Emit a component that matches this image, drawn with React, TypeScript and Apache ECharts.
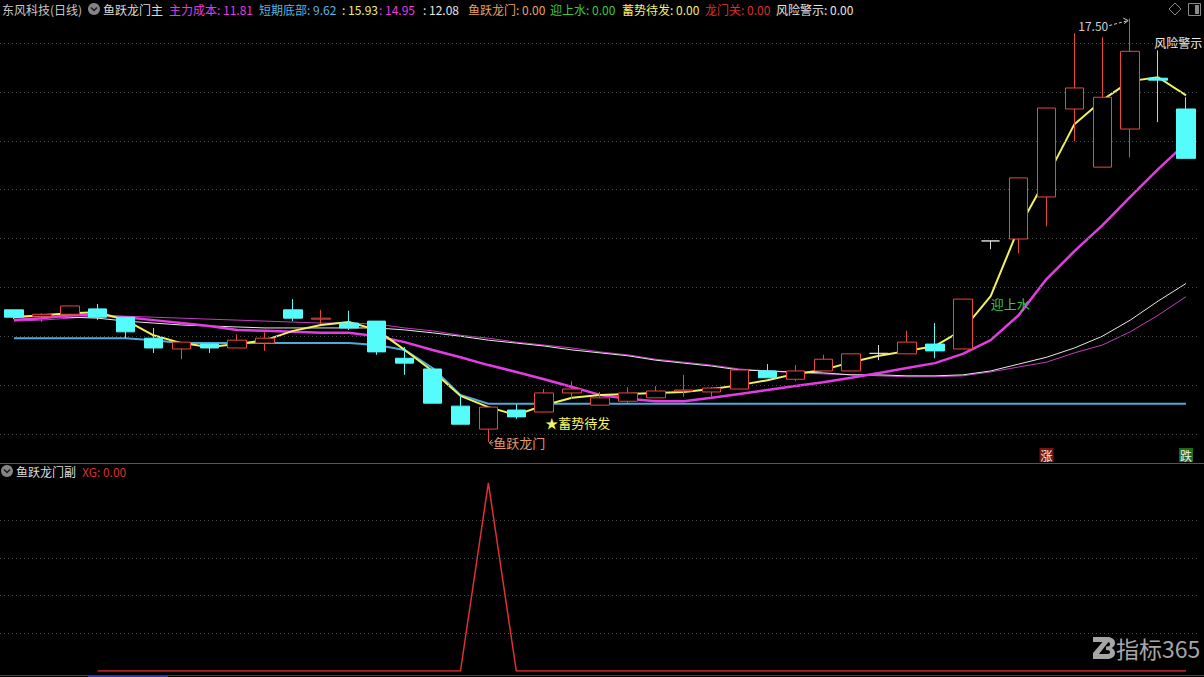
import React, { useEffect, useRef } from "react";
import * as echarts from "echarts";

// ---------- data ----------
const DAYS: string[] = [
  "D01","D02","D03","D04","D05","D06","D07","D08","D09","D10",
  "D11","D12","D13","D14","D15","D16","D17","D18","D19","D20",
  "D21","D22","D23","D24","D25","D26","D27","D28","D29","D30",
  "D31","D32","D33","D34","D35","D36","D37","D38","D39","D40",
  "D41","D42","D43",
];

// [open, close, low, high]
const CANDLES: number[][] = [
  [11.54, 11.39, 11.35, 11.54],
  [11.41, 11.45, 11.29, 11.47],
  [11.45, 11.62, 11.45, 11.62],
  [11.56, 11.39, 11.33, 11.66],
  [11.39, 11.09, 10.96, 11.39],
  [10.96, 10.76, 10.66, 11.17],
  [10.74, 10.88, 10.53, 10.88],
  [10.84, 10.76, 10.66, 10.84],
  [10.76, 10.92, 10.76, 11.04],
  [10.86, 10.96, 10.70, 11.08],
  [11.54, 11.37, 11.31, 11.76],
  [11.35, 11.37, 11.25, 11.54],
  [11.27, 11.17, 11.13, 11.52],
  [11.31, 10.68, 10.62, 11.31],
  [10.55, 10.45, 10.21, 10.78],
  [10.33, 9.63, 9.63, 10.33],
  [9.57, 9.20, 9.20, 9.80],
  [9.10, 9.55, 8.84, 9.55],
  [9.49, 9.35, 9.31, 9.61],
  [9.45, 9.84, 9.45, 9.92],
  [9.84, 9.92, 9.72, 10.08],
  [9.59, 9.74, 9.59, 9.86],
  [9.67, 9.84, 9.63, 9.96],
  [9.74, 9.88, 9.74, 9.98],
  [9.88, 9.90, 9.76, 10.21],
  [9.86, 9.94, 9.76, 9.96],
  [9.92, 10.31, 9.92, 10.31],
  [10.29, 10.15, 10.15, 10.43],
  [10.12, 10.29, 10.08, 10.41],
  [10.29, 10.53, 10.29, 10.62],
  [10.29, 10.64, 10.29, 10.64],
  [10.65, 10.65, 10.51, 10.82],
  [10.64, 10.88, 10.64, 11.11],
  [10.84, 10.70, 10.55, 11.27],
  [10.74, 11.76, 10.74, 11.76],
  [12.95, 12.95, 12.78, 12.95],
  [12.99, 14.24, 12.70, 14.24],
  [13.85, 15.67, 13.25, 15.67],
  [15.65, 16.08, 14.99, 17.20],
  [14.46, 15.89, 14.46, 17.12],
  [15.24, 16.83, 14.66, 17.50],
  [16.28, 16.24, 15.38, 16.85],
  [15.65, 14.64, 14.64, 15.89],
];

// 主力成本 (thin magenta)
const MAIN_COST: number[] = [
  11.31, 11.33, 11.37, 11.41, 11.41, 11.39, 11.37, 11.35, 11.33, 11.31,
  11.29, 11.27, 11.27, 11.25, 11.17, 11.11, 11.02, 10.96, 10.88, 10.82,
  10.76, 10.68, 10.62, 10.53, 10.47, 10.41, 10.33, 10.29, 10.25, 10.23,
  10.21, 10.19, 10.17, 10.17, 10.19, 10.27, 10.37, 10.47, 10.66, 10.82,
  11.09, 11.43, 11.81,
];

// 短期底部 (blue)
const SHORT_BOTTOM: number[] = [
  10.96, 10.96, 10.96, 10.96, 10.96, 10.92, 10.86, 10.86, 10.86, 10.86,
  10.86, 10.86, 10.86, 10.82, 10.72, 10.35, 9.80, 9.62, 9.62, 9.62,
  9.62, 9.62, 9.62, 9.62, 9.62, 9.62, 9.62, 9.62, 9.62, 9.62,
  9.62, 9.62, 9.62, 9.62, 9.62, 9.62, 9.62, 9.62, 9.62, 9.62,
  9.62, 9.62, 9.62,
];

// yellow
const FAST_LINE: number[] = [
  11.39, 11.43, 11.47, 11.49, 11.33, 11.02, 10.86, 10.78, 10.84, 10.92,
  11.11, 11.23, 11.29, 11.13, 10.72, 10.29, 9.78, 9.55, 9.39, 9.59,
  9.74, 9.80, 9.82, 9.84, 9.86, 9.92, 10.00, 10.10, 10.23, 10.31,
  10.47, 10.60, 10.70, 10.80, 11.13, 11.82, 13.21, 14.24, 15.34, 15.83,
  16.22, 16.30, 15.93,
];

// thick magenta
const MID_LINE: number[] = [
  11.33, 11.37, 11.43, 11.43, 11.39, 11.33, 11.27, 11.21, 11.13, 11.11,
  11.09, 11.07, 11.07, 11.00, 10.88, 10.72, 10.57, 10.41, 10.27, 10.12,
  9.96, 9.80, 9.72, 9.67, 9.67, 9.74, 9.82, 9.90, 9.98, 10.06,
  10.15, 10.25, 10.35, 10.45, 10.64, 10.92, 11.43, 12.17, 12.74, 13.27,
  13.85, 14.42, 14.95,
];

// white
const SLOW_LINE: number[] = [
  11.41, 11.41, 11.39, 11.37, 11.31, 11.27, 11.23, 11.21, 11.19, 11.17,
  11.17, 11.17, 11.17, 11.17, 11.13, 11.07, 11.00, 10.92, 10.86, 10.80,
  10.72, 10.66, 10.60, 10.51, 10.45, 10.39, 10.31, 10.29, 10.27, 10.25,
  10.21, 10.21, 10.19, 10.19, 10.21, 10.29, 10.43, 10.57, 10.76, 11.00,
  11.33, 11.72, 12.08,
];

// XG (sub pane)
const XG: (number | null)[] = [
  null, null, null, 0, 0, 0, 0, 0, 0, 0,
  0, 0, 0, 0, 0, 0, 0, 1, 0, 0,
  0, 0, 0, 0, 0, 0, 0, 0, 0, 0,
  0, 0, 0, 0, 0, 0, 0, 0, 0, 0,
  0, 0, 0,
];

const PRICE_TICKS: number[] = [9, 10, 11, 12, 13, 14, 15, 16, 17];
const XG_TICKS: number[] = [0.2, 0.4, 0.6, 0.8];

const ANNOTATIONS = [
  { text: "迎上水", idx: 35, price: 11.68, color: "#3cc83c", dx: 0, size: 13 },
  { text: "★蓄势待发", idx: 19, price: 9.24, color: "#f2f264", dx: 1, size: 13 },
  { text: "鱼跃龙门", idx: 17, price: 8.82, color: "#e09a72", dx: 5, size: 13 },
  { text: "风险警示", idx: 41, price: 17.02, color: "#eeeeee", dx: -4, size: 12 },
];
const HIGH_IDX = 40;
const UPDOWN_MARKS = [
  { text: "涨", idx: 37, bg: "#701616" },
  { text: "跌", idx: 42, bg: "#1c6c1c" },
];

// ---------- style ----------
const FONT = '"Noto Sans CJK SC", "Noto Sans", sans-serif';
const C_MAG = "#e23ce2";
const C_MAG_THIN = "#c23cc2";
const C_BLUE = "#4eaad8";
const C_YEL = "#f2f25c";
const C_WHITE = "#e8e8e8";
const C_RED = "#e8473f";
const C_CYAN = "#54fcfc";

const last = (a: (number | null)[]) => (a[a.length - 1] as number).toFixed(2);

const LOGO_D =
  "M0 0 H14 C19 0 22 2.5 22 6 C22 8.5 20.5 10 18.5 11 C20.5 12 22 13.5 22 16 C22 19.5 19 22 14 22 H0 Z " +
  "M0 5 L0 16 L9.5 5 Z " +
  "M15.5 5 L6 17 H14.5 C16.5 17 17 16.2 17 15 C17 13.8 16 13 14 13 L13 13 L13 9.5 L14 9.5 C16 9.5 17 8.5 17 7.2 C17 6 16.5 5 15 5 Z";

let logoRegistered = false;
function registerLogo() {
  if (logoRegistered) return;
  echarts.graphic.registerShape("logo365", echarts.graphic.extendPath(LOGO_D, {}) as any);
  logoRegistered = true;
}

function txt(x: number, y: number, text: string, fill: string, size = 12, align = "left", extra: any = {}) {
  return {
    type: "text",
    x,
    y,
    silent: true,
    z: 100,
    style: {
      text,
      fill,
      font: `${size}px ${FONT}`,
      textAlign: align,
      textVerticalAlign: "middle",
      ...extra,
    },
  };
}

function buildOption() {
  return {
    animation: false,
    backgroundColor: "#000000",
    textStyle: { fontFamily: FONT },
    grid: [
      { left: -4, width: 1204, top: 15, height: 447 },
      { left: -4, width: 1204, top: 464, height: 207 },
    ],
    xAxis: [
      { type: "category", data: DAYS, gridIndex: 0, show: false, boundaryGap: true },
      { type: "category", data: DAYS, gridIndex: 1, show: false, boundaryGap: true },
    ],
    yAxis: [
      { type: "value", gridIndex: 0, min: 8.427, max: 17.573, show: false },
      { type: "value", gridIndex: 1, min: 0, max: 1.1, show: false },
    ],
    series: [
      {
        name: "主力成本",
        type: "line",
        data: MAIN_COST,
        symbol: "none",
        silent: true,
        lineStyle: { color: C_MAG_THIN, width: 1 },
        z: 2,
        markLine: {
          silent: true,
          symbol: ["none", "none"],
          label: { show: false },
          lineStyle: { color: "#4a4a4a", type: [1, 3], width: 1 },
          data: PRICE_TICKS.map((v) => ({ yAxis: v })),
        },
      },
      {
        name: "slow",
        type: "line",
        data: SLOW_LINE,
        symbol: "none",
        silent: true,
        lineStyle: { color: C_WHITE, width: 1 },
        z: 2,
      },
      {
        name: "短期底部",
        type: "line",
        data: SHORT_BOTTOM,
        symbol: "none",
        silent: true,
        lineStyle: { color: C_BLUE, width: 2 },
        z: 2,
      },
      {
        name: "mid",
        type: "line",
        data: MID_LINE,
        symbol: "none",
        silent: true,
        lineStyle: { color: C_MAG, width: 2.5 },
        z: 2,
      },
      {
        name: "fast",
        type: "line",
        data: FAST_LINE,
        symbol: "none",
        silent: true,
        lineStyle: { color: C_YEL, width: 2 },
        z: 2,
      },
      {
        name: "K",
        type: "candlestick",
        data: CANDLES,
        barWidth: 19,
        silent: true,
        z: 5,
        itemStyle: {
          color: "#000000",
          color0: C_CYAN,
          borderColor: C_RED,
          borderColor0: C_CYAN,
          borderColorDoji: "#d8d8d8",
          borderWidth: 1,
        },
      },
      {
        name: "XG",
        type: "line",
        xAxisIndex: 1,
        yAxisIndex: 1,
        data: XG,
        symbol: "none",
        silent: true,
        connectNulls: false,
        lineStyle: { color: "#e03030", width: 1.5 },
        z: 3,
        markLine: {
          silent: true,
          symbol: ["none", "none"],
          label: { show: false },
          lineStyle: { color: "#4a4a4a", type: [1, 3], width: 1 },
          data: XG_TICKS.map((v) => ({ yAxis: v })),
        },
      },
    ],
  };
}

function buildGraphics(P: (i: number, v: number) => number[]) {
  const g: any[] = [];
  // header
  const hy = 9;
  g.push(txt(2, hy, "东风科技(日线)", "#c8c8c8"));
  g.push({ type: "circle", x: 94, y: hy, shape: { cx: 0, cy: 0, r: 6 }, style: { fill: "#858585" }, silent: true, z: 100 });
  g.push({ type: "polyline", x: 94, y: hy, shape: { points: [[-3, -1.5], [0, 1.5], [3, -1.5]] }, style: { stroke: "#1a1a1a", lineWidth: 1.5, fill: null }, silent: true, z: 101 });
  g.push(txt(103, hy, "鱼跃龙门主", "#dcdcdc"));
  g.push(txt(169, hy, `主力成本: ${last(MAIN_COST)}`, C_MAG));
  g.push(txt(259, hy, `短期底部: ${last(SHORT_BOTTOM)}`, "#5ab4e6"));
  g.push(txt(342, hy, `: ${last(FAST_LINE)}`, "#f0f070"));
  g.push(txt(379, hy, `: ${last(MID_LINE)}`, C_MAG));
  g.push(txt(423, hy, `: ${last(SLOW_LINE)}`, "#e6e6e6"));
  g.push(txt(468, hy, "鱼跃龙门: 0.00", "#e8a060"));
  g.push(txt(550, hy, "迎上水: 0.00", "#3cc83c"));
  g.push(txt(622, hy, "蓄势待发: 0.00", "#f0f070"));
  g.push(txt(705, hy, "龙门关: 0.00", "#d83030"));
  g.push(txt(776, hy, "风险警示: 0.00", "#e6e6e6"));

  // top-right icons
  g.push({ type: "polygon", shape: { points: [[1175, 3], [1181, 9], [1175, 15], [1169, 9]] }, style: { stroke: "#8a8a8a", fill: null, lineWidth: 1 }, silent: true, z: 100 });
  g.push({ type: "rect", shape: { x: 1188.5, y: 3.5, width: 12, height: 12 }, style: { stroke: "#8a8a8a", fill: null, lineWidth: 1 }, silent: true, z: 100 });
  g.push({ type: "rect", shape: { x: 1195, y: 5, width: 4, height: 9 }, style: { fill: "#8a8a8a" }, silent: true, z: 100 });

  // pane separators
  g.push({ type: "line", shape: { x1: 0, y1: 463.5, x2: 1204, y2: 463.5 }, style: { stroke: "#555555", lineWidth: 1 }, silent: true, z: 90 });
  g.push({ type: "line", shape: { x1: 0, y1: 675.5, x2: 1204, y2: 675.5 }, style: { stroke: "#444444", lineWidth: 1 }, silent: true, z: 90 });
  g.push({ type: "rect", shape: { x: 88, y: 675, width: 80, height: 2 }, style: { fill: "#2a34b0" }, silent: true, z: 91 });

  // sub pane header
  const sy = 471;
  g.push({ type: "circle", x: 7, y: sy, shape: { cx: 0, cy: 0, r: 6 }, style: { fill: "#858585" }, silent: true, z: 100 });
  g.push({ type: "polyline", x: 7, y: sy, shape: { points: [[-3, -1.5], [0, 1.5], [3, -1.5]] }, style: { stroke: "#1a1a1a", lineWidth: 1.5, fill: null }, silent: true, z: 101 });
  g.push(txt(16, sy, "鱼跃龙门副", "#dcdcdc"));
  g.push(txt(82, sy, `XG: ${last(XG)}`, "#d83030"));

  // high label with arrow
  const hp = P(HIGH_IDX, CANDLES[HIGH_IDX][3]);
  g.push(txt(hp[0] - 22, hp[1] + 7, CANDLES[HIGH_IDX][3].toFixed(2), "#cfcfcf", 12, "right"));
  g.push({ type: "line", shape: { x1: hp[0] - 21, y1: hp[1] + 7, x2: hp[0] - 2, y2: hp[1] + 2 }, style: { stroke: "#cfcfcf", lineWidth: 1, lineDash: [3, 2] }, silent: true, z: 100 });
  g.push({ type: "polyline", shape: { points: [[hp[0] - 7, hp[1] - 0.5], [hp[0] - 2, hp[1] + 2], [hp[0] - 6, hp[1] + 5]] }, style: { stroke: "#cfcfcf", lineWidth: 1, fill: null }, silent: true, z: 100 });

  // annotations
  ANNOTATIONS.forEach((a) => {
    const p = P(a.idx, a.price);
    g.push(txt(p[0] + a.dx, p[1], a.text, a.color, a.size));
  });
  // small arrow before 鱼跃龙门
  const fa = ANNOTATIONS[2];
  const fp = P(fa.idx, fa.price);
  g.push({ type: "polyline", shape: { points: [[fp[0] + 4, fp[1] - 3], [fp[0] + 1, fp[1]], [fp[0] + 4, fp[1] + 3]] }, style: { stroke: fa.color, lineWidth: 1, fill: null }, silent: true, z: 100 });
  g.push({ type: "line", shape: { x1: fp[0] + 1, y1: fp[1], x2: fp[0] + 5, y2: fp[1] }, style: { stroke: fa.color, lineWidth: 1 }, silent: true, z: 100 });

  // rise / fall marks
  UPDOWN_MARKS.forEach((m) => {
    const p = P(m.idx, 9);
    g.push({ type: "rect", shape: { x: p[0] - 7, y: 448, width: 14, height: 14 }, style: { fill: m.bg }, silent: true, z: 100 });
    g.push(txt(p[0], 455, m.text, "#f0f0f0", 12, "center"));
  });

  // watermark
  g.push({ type: "logo365", x: 1093, y: 637, style: { fill: "#a6a6a6" }, silent: true, z: 100 });
  g.push(txt(1116, 648, "指标365", "#a6a6a6", 23));
  return g;
}

export default function App() {
  const ref = useRef<HTMLDivElement>(null);
  useEffect(() => {
    if (!ref.current) return;
    registerLogo();
    const chart = echarts.init(ref.current, null, { renderer: "svg" });
    chart.setOption(buildOption() as any);
    const P = (i: number, v: number) =>
      chart.convertToPixel({ xAxisIndex: 0, yAxisIndex: 0 } as any, [i, v]) as number[];
    chart.setOption({ graphic: buildGraphics(P) } as any);
    return () => chart.dispose();
  }, []);
  return (
    <div style={{ position: "fixed", left: 0, top: 0, width: 1204, height: 677, background: "#000" }}>
      <div ref={ref} style={{ width: 1204, height: 677 }} />
    </div>
  );
}
